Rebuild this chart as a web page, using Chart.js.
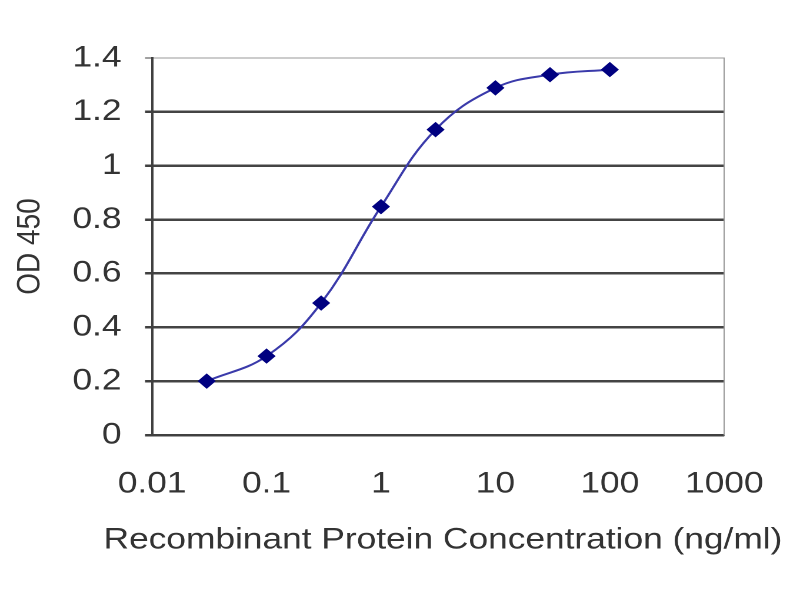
<!DOCTYPE html>
<html><head><meta charset="utf-8">
<script src="https://cdn.jsdelivr.net/npm/chart.js@4.4.0/dist/chart.umd.min.js"></script>
<style>
html,body{margin:0;padding:0;background:#fff;overflow:hidden;}
#wrap{width:680px;height:600px;transform:scaleX(1.17647);transform-origin:0 0;}
</style></head><body>
<div id="wrap"><canvas id="c" width="680" height="600"></canvas></div>
<script>
const concentrations=[0.03,0.1,0.3,1,3,10,30,100];
const odValues=[0.2,0.293,0.49,0.848,1.134,1.289,1.338,1.357];
const xTickValues=[0.01,0.1,1,10,100,1000];
const xTickLabels=['0.01','0.1','1','10','100','1000'];
const yTickValues=[0,0.2,0.4,0.6,0.8,1,1.2,1.4];
const yTickLabels=['0','0.2','0.4','0.6','0.8','1','1.2','1.4'];
const xTitle='Recombinant Protein Concentration (ng/ml)';
const yTitle='OD 450';

const points=concentrations.map((c,i)=>({x:c,y:odValues[i]}));
const FONT='"Liberation Sans", Arial, sans-serif';
const TXT='#333';

new Chart(document.getElementById('c'),{
  type:'line',
  data:{datasets:[{
    data:points,
    xAxisID:'x',
    yAxisID:'y',
    borderColor:'#3a3aaa',
    borderWidth:2,
    tension:0.4,
    pointStyle:'rectRot',
    pointRadius:7,
    pointBackgroundColor:'#000080',
    pointBorderColor:'#000080',
    pointBorderWidth:1,
    fill:false
  }]},
  options:{
    responsive:false,
    animation:false,
    devicePixelRatio:2,
    layout:{padding:{top:58,right:15,bottom:0,left:0}},
    plugins:{
      legend:{display:false},
      tooltip:{enabled:false},
      title:{
        display:true,position:'bottom',align:'end',text:xTitle,color:TXT,
        font:{family:FONT,size:30,weight:'normal'},
        padding:{top:0,bottom:42}
      }
    },
    scales:{
      x:{
        type:'logarithmic',
        min:0.01,max:1000,
        afterBuildTicks:(s)=>{s.ticks=xTickValues.map(v=>({value:v}));},
        afterFit:(s)=>{s.height=87;},
        ticks:{
          autoSkip:false,maxRotation:0,padding:31,color:TXT,
          font:{family:FONT,size:30},
          callback:(v)=>{const i=xTickValues.findIndex(t=>Math.abs(Math.log10(t)-Math.log10(v))<1e-6);return i>=0?xTickLabels[i]:'';}
        },
        grid:{drawTicks:false,color:'rgba(0,0,0,0)'},
        border:{display:true,color:'#404040',width:2}
      },
      y:{
        min:0,max:1.4,
        afterBuildTicks:(s)=>{s.ticks=yTickValues.map(v=>({value:v}));},
        afterFit:(s)=>{s.width=129.3;},
        ticks:{
          autoSkip:false,padding:20,color:TXT,
          font:{family:FONT,size:30},
          callback:(v)=>{const i=yTickValues.findIndex(t=>Math.abs(t-v)<1e-9);return i>=0?yTickLabels[i]:'';}
        },
        grid:{
          tickLength:6,
          color:(ctx)=>ctx.tick && ctx.tick.value>=1.399?'#999':'#444',
          tickColor:'#404040',
          lineWidth:(ctx)=>ctx.tick && ctx.tick.value>=1.399?1:2.5
        },
        border:{display:true,color:'#404040',width:2},
        title:{display:true,text:yTitle,color:TXT,font:{family:FONT,size:28},padding:9}
      },
      y2:{
        position:'right',
        min:0,max:1.4,
        afterFit:(s)=>{s.width=44;},
        ticks:{display:false},
        grid:{drawOnChartArea:false,drawTicks:false},
        border:{display:true,color:'#999',width:1}
      }
    }
  }
});
</script>
</body></html>
